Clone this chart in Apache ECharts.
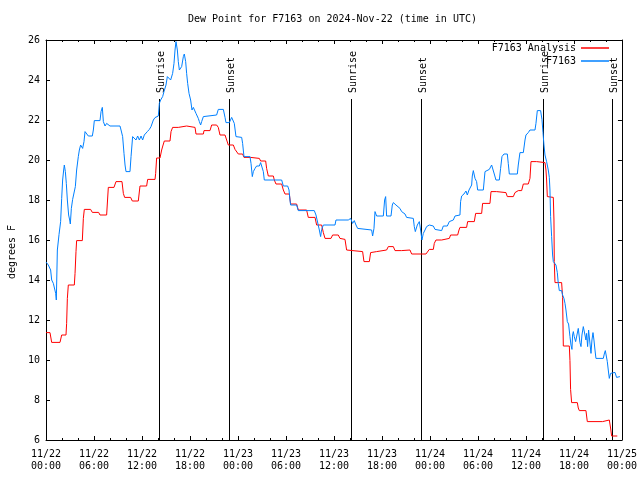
<!DOCTYPE html>
<html>
<head>
<meta charset="utf-8">
<script src="https://cdn.jsdelivr.net/npm/echarts@6/dist/echarts.min.js"></script>
<style>html,body{margin:0;padding:0;background:#fff}#c{width:640px;height:480px}</style>
</head>
<body>
<div id="c"></div>
<script>
// hours since 2024-11-22 00:00 UTC
const analysisHours = [0,0.5,0.71,1.75,1.96,2.5,2.58,2.67,2.79,3.54,3.63,3.75,3.83,4.54,4.67,4.79,5.58,5.79,6.58,6.75,7.58,7.79,8.5,8.75,9.5,9.67,9.83,10.58,10.79,11.54,11.75,12.58,12.71,13.63,13.71,13.83,14.25,14.46,14.6,14.79,15.5,15.63,15.83,16.54,16.75,17.58,17.79,18.63,18.75,19.67,19.75,20.5,20.71,21.33,21.54,21.75,22.38,22.58,22.79,23.42,23.63,24.04,24.58,24.75,25.58,25.71,26.67,26.83,27.46,27.58,27.79,28.42,28.54,28.75,29.46,29.67,29.88,30.42,30.58,31.33,31.54,32.58,32.79,33.63,33.83,34.46,34.67,34.88,35.63,35.83,36.54,36.75,37.38,37.58,37.79,39.58,39.75,40.42,40.58,41.33,41.54,42.58,42.79,43.42,43.63,44.46,44.67,45.5,45.71,47.5,47.67,47.92,48.42,48.54,48.75,49.46,49.67,50.42,50.58,51.46,51.63,51.75,52.58,52.71,53.54,53.71,54.46,54.58,55.5,55.63,56.33,56.46,57.5,57.67,58.42,58.63,59.04,59.46,59.67,60.29,60.5,60.63,61.33,61.54,62.38,62.5,62.58,62.67,63.42,63.5,63.54,63.63,64.46,64.58,64.67,65.42,65.5,65.58,65.71,66.42,66.54,66.67,67.5,67.67,69.58,69.67,70.42,70.58,70.71,71.42];
const analysisValues = [11.37,11.37,10.88,10.88,11.25,11.25,11.83,13.08,13.75,13.75,14.33,15.42,15.97,15.97,17.08,17.53,17.53,17.38,17.38,17.25,17.25,18.63,18.63,18.92,18.92,18.33,18.13,18.13,17.95,17.95,18.7,18.7,19.03,19.03,19.33,20.1,20.1,20.5,20.7,20.95,20.95,21.42,21.63,21.63,21.7,21.7,21.63,21.63,21.3,21.3,21.47,21.47,21.75,21.75,21.63,21.25,21.25,21.17,20.75,20.75,20.53,20.3,20.3,20.13,20.13,20.08,20.08,19.95,19.95,19.58,19.2,19.2,19.0,18.8,18.8,18.5,18.3,18.3,17.8,17.8,17.5,17.5,17.13,17.13,16.75,16.75,16.37,16.08,16.08,16.25,16.25,16.08,16.03,15.5,15.42,15.42,14.92,14.92,15.37,15.42,15.5,15.5,15.67,15.67,15.47,15.47,15.5,15.5,15.3,15.3,15.37,15.53,15.53,15.83,16.0,16.0,16.08,16.08,16.25,16.25,16.5,16.63,16.63,16.92,16.92,17.33,17.33,17.83,17.83,18.42,18.42,18.37,18.37,18.17,18.17,18.37,18.47,18.47,18.8,18.8,19.08,19.92,19.92,19.87,19.87,19.5,19.0,18.17,18.13,17.0,14.92,13.87,13.87,13.13,10.7,10.7,9.97,8.53,7.87,7.87,7.6,7.47,7.47,6.92,6.92,7.0,7.0,6.6,6.2,6.2];

const obsHours = [0,0.29,0.58,0.71,0.92,1.13,1.21,1.29,1.42,1.63,1.83,1.96,2.08,2.21,2.29,2.42,2.54,2.67,2.83,2.96,3.04,3.17,3.33,3.54,3.67,3.83,4.04,4.17,4.33,4.58,4.75,4.88,5.08,5.29,5.5,5.79,5.92,6.04,6.75,6.88,7.04,7.17,7.38,7.58,7.79,8.0,9.25,9.38,9.58,9.75,9.88,10.0,10.5,10.63,10.83,11.04,11.25,11.46,11.67,11.88,12.08,12.29,12.5,12.67,12.92,13.13,13.42,13.63,14.04,14.17,14.33,14.58,14.75,15.0,15.17,15.42,15.58,15.71,15.83,16.0,16.13,16.25,16.42,16.54,16.67,16.83,16.96,17.17,17.29,17.46,17.58,17.71,17.88,18.08,18.25,18.42,18.63,18.75,18.92,19.04,19.17,19.33,19.46,19.67,19.88,21.33,21.54,22.17,22.38,22.5,22.92,23.21,23.42,23.54,23.75,24.46,24.58,24.75,25.5,25.63,25.79,25.92,26.13,26.33,26.67,26.83,27.04,27.17,27.29,29.46,29.67,30.21,30.38,30.5,30.58,31.33,31.54,33.54,33.75,33.96,34.17,34.33,34.46,34.67,36.13,36.25,37.79,38.08,38.33,38.54,38.75,38.96,39.17,40.71,40.83,41.0,41.13,41.33,42.17,42.33,42.46,42.58,43.13,43.29,43.42,43.75,43.96,44.25,44.46,44.88,45.08,45.92,46.04,46.17,46.42,46.67,46.83,47.0,47.17,47.38,47.58,47.92,48.42,48.63,48.75,49.46,49.67,50.17,50.42,50.5,50.92,51.13,51.75,51.83,51.96,52.25,52.5,52.67,52.88,53.08,53.21,53.29,53.42,53.63,53.83,53.96,54.67,54.88,55.0,55.42,55.58,55.71,55.92,56.04,56.25,56.67,56.83,57.0,57.25,57.67,57.79,57.92,58.92,59.04,59.25,59.67,59.88,60.0,60.29,60.5,61.13,61.25,61.42,61.83,62.0,62.13,62.25,62.38,62.58,62.79,62.92,63.0,63.08,63.21,63.33,63.42,63.63,63.75,63.92,64.04,64.17,64.46,64.58,64.75,64.88,65.0,65.17,65.33,65.5,65.63,65.75,65.83,65.92,66.04,66.21,66.42,66.54,66.67,66.75,66.88,67.0,67.17,67.38,67.5,67.58,67.71,67.83,68.0,68.13,68.25,68.38,68.5,68.63,68.75,69.67,69.79,69.92,70.0,70.17,70.29,70.42,70.58,70.71,71.13,71.33,71.54,71.75];
const obsValues = [14.9,14.75,14.5,14.0,13.83,13.92,13.33,13.0,15.5,16.28,16.92,18.08,19.0,19.5,19.75,19.42,18.83,18.0,17.25,17.0,16.8,17.58,18.03,18.03,18.67,19.5,20.17,20.5,20.75,20.58,20.92,21.42,21.5,21.2,21.25,21.2,21.5,21.97,21.97,22.42,22.63,21.92,21.7,21.83,21.92,21.7,21.7,21.5,21.17,20.33,19.75,19.42,19.42,20.17,21.17,21.25,21.0,21.2,21.0,21.2,21.0,21.25,21.3,21.42,21.53,21.67,22.0,22.12,22.2,22.83,23.0,23.17,23.42,23.75,24.17,24.17,24.0,23.92,24.33,24.83,25.5,25.92,25.5,24.92,24.5,24.42,24.67,25.17,25.3,24.92,24.33,23.83,23.33,23.0,22.5,22.63,22.7,22.33,22.25,22.08,21.92,21.75,21.92,22.17,22.25,22.25,22.53,22.53,22.13,21.87,21.87,22.13,22.08,21.83,21.17,21.13,20.83,20.17,20.17,19.83,19.17,19.42,19.58,19.7,19.7,19.87,19.92,19.42,19.0,19.0,18.7,18.7,18.5,18.0,17.75,17.75,17.47,17.47,17.25,17.17,16.5,16.17,16.53,16.75,16.75,17.0,17.0,17.08,16.83,16.97,16.75,16.58,16.5,16.5,16.2,16.58,17.42,17.2,17.2,18.0,18.17,17.2,17.2,17.75,17.87,17.75,17.67,17.58,17.42,17.3,17.13,17.08,16.67,16.42,16.75,16.92,16.5,16.0,16.33,16.5,16.67,16.75,16.7,16.53,16.47,16.47,16.7,16.7,16.92,17.0,17.0,17.2,17.25,17.92,18.2,18.3,18.45,18.25,18.5,18.53,18.75,19.2,19.47,19.08,18.92,18.5,18.5,19.42,19.5,19.53,19.63,19.75,19.75,19.3,19.0,19.0,19.58,20.17,20.3,20.3,19.83,19.3,19.3,19.75,20.37,20.37,21.0,21.25,21.37,21.5,21.5,21.83,22.47,22.47,22.03,21.37,20.75,20.25,19.92,19.5,19.13,18.5,17.17,16.17,15.25,14.92,14.83,14.75,14.37,13.83,13.47,13.47,13.25,13.08,12.83,12.5,11.92,11.8,11.17,10.75,10.53,11.25,11.42,11.17,10.92,10.92,11.58,11.67,10.87,10.67,11.25,11.67,11.67,11.0,11.33,10.67,11.5,11.58,10.33,11.0,11.37,11.0,10.5,10.08,10.08,10.3,10.47,10.3,9.92,9.5,9.08,9.33,9.38,9.38,9.13,9.13,9.17];

const sunTimes = [14.18, 22.92, 38.17, 46.92, 62.17, 70.8];
const sunLabels = ['Sunrise', 'Sunset', 'Sunrise', 'Sunset', 'Sunrise', 'Sunset'];

const yTicks = [6, 8, 10, 12, 14, 16, 18, 20, 22, 24, 26];

const FONT = '"DejaVu Sans Mono", monospace';
const pad2 = n => (n < 10 ? '0' : '') + n;
function xLabel(h) {
  const day = 22 + Math.floor(h / 24);
  const hr = Math.round(h % 24);
  return '11/' + pad2(day) + '\n' + pad2(hr) + ':00';
}

const chart = echarts.init(document.getElementById('c'), null, {renderer: 'canvas'});
const axisBase = {
  axisLine: {show: true, onZero: false, lineStyle: {color: '#000', width: 1}},
  axisTick: {show: true, inside: true, length: 4, lineStyle: {color: '#000'}},
  splitLine: {show: false}
};
chart.setOption({
  animation: false,
  backgroundColor: '#fff',
  title: {
    text: 'Dew Point for F7163 on 2024-Nov-22 (time in UTC)',
    left: 188, top: 14, padding: 0,
    textStyle: {fontFamily: FONT, fontSize: 10, fontWeight: 'normal', color: '#000'}
  },
  grid: {left: 46, right: 18, top: 40, bottom: 40},
  legend: [
    {data: ['F7163 Analysis'], right: 31, top: 43, align: 'right', icon: 'rect', itemWidth: 28, itemHeight: 1.5,
     padding: 0, textStyle: {fontFamily: FONT, fontSize: 10, color: '#000'}},
    {data: ['F7163'], right: 31, top: 56, align: 'right', icon: 'rect', itemWidth: 28, itemHeight: 1.5,
     padding: 0, textStyle: {fontFamily: FONT, fontSize: 10, color: '#000'}}
  ],
  xAxis: [
    Object.assign({}, axisBase, {
      type: 'value', min: 0, max: 72, interval: 6, position: 'bottom',
      minorTick: {show: true, splitNumber: 3, length: 2, lineStyle: {color: '#000'}},
      axisLabel: {formatter: xLabel, color: '#000', fontFamily: FONT, fontSize: 10, lineHeight: 12.5, margin: 8}
    }),
    Object.assign({}, axisBase, {
      type: 'value', min: 0, max: 72, interval: 6, position: 'top',
      minorTick: {show: true, splitNumber: 3, length: 2, lineStyle: {color: '#000'}},
      axisLabel: {show: false}
    })
  ],
  yAxis: [
    Object.assign({}, axisBase, {
      type: 'value', min: yTicks[0], max: yTicks[yTicks.length - 1], interval: 2, position: 'left',
      axisLabel: {color: '#000', fontFamily: FONT, fontSize: 10, margin: 6}
    }),
    Object.assign({}, axisBase, {
      type: 'value', min: yTicks[0], max: yTicks[yTicks.length - 1], interval: 2, position: 'right',
      axisLabel: {show: false}
    })
  ],
  graphic: [{
    type: 'text', x: 12, y: 252, rotation: Math.PI / 2,
    style: {text: 'degrees F', fill: '#000', font: '10px ' + FONT, align: 'center', verticalAlign: 'middle'}
  }],
  series: [
    {
      type: 'custom', xAxisIndex: 0, yAxisIndex: 0, silent: true, z: 1,
      data: sunTimes.map(t => [t, 6]),
      renderItem: function (params, api) {
        const t = api.value(0);
        const top = api.coord([t, 23.05]);
        const bot = api.coord([t, 6]);
        const x = Math.round(top[0]) + 0.5;
        return {
          type: 'group',
          children: [
            {type: 'line', shape: {x1: x, y1: top[1], x2: x, y2: bot[1]}, style: {stroke: '#000', lineWidth: 1}},
            {type: 'text', x: x + 1.5, y: top[1] - 6, rotation: Math.PI / 2,
             style: {text: sunLabels[params.dataIndex], fill: '#000', font: '10px ' + FONT, align: 'left', verticalAlign: 'middle'}}
          ]
        };
      }
    },
    {
      name: 'F7163 Analysis', type: 'line', xAxisIndex: 0, yAxisIndex: 0, z: 2,
      data: analysisHours.map((h, i) => [h, analysisValues[i]]),
      showSymbol: false, symbol: 'none', smooth: false,
      lineStyle: {color: '#ff0000', width: 1}, itemStyle: {color: '#ff0000'}
    },
    {
      name: 'F7163', type: 'line', xAxisIndex: 0, yAxisIndex: 0, z: 3,
      data: obsHours.map((h, i) => [h, obsValues[i]]),
      showSymbol: false, symbol: 'none', smooth: false,
      lineStyle: {color: '#0080ff', width: 1}, itemStyle: {color: '#0080ff'}
    }
  ]
});
</script>
</body>
</html>
